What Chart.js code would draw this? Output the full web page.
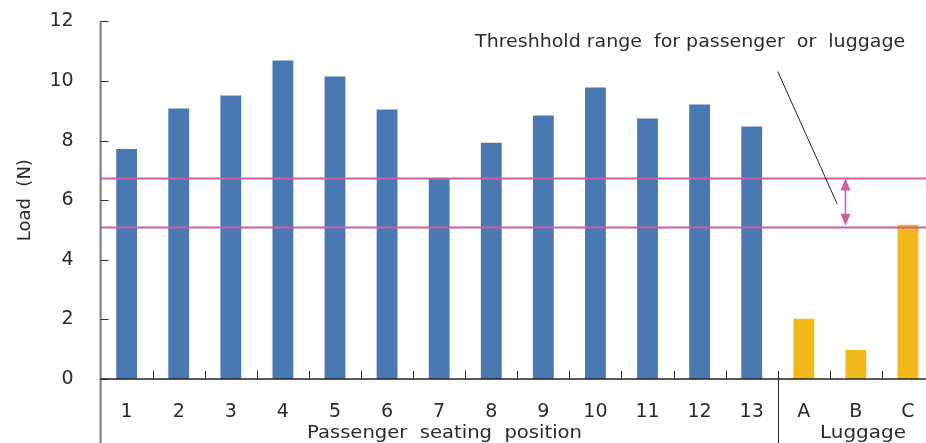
<!DOCTYPE html>
<html>
<head>
<meta charset="utf-8">
<script src="https://cdn.jsdelivr.net/npm/chart.js@4.4.1/dist/chart.umd.min.js"></script>
<style>
  html, body { margin: 0; padding: 0; background: #fff; overflow: hidden; }
  #wrap { width: 936px; height: 443px; overflow: hidden; }
  #chart { display: block; margin-top: -9px; }
</style>
</head>
<body>
<div id="wrap"><canvas id="chart" width="936" height="452"></canvas></div>
<script>
// categories along the x axis
const seatLabels = ['1', '2', '3', '4', '5', '6', '7', '8', '9', '10', '11', '12', '13'];
const luggageLabels = ['A', 'B', 'C'];
// load in N
const passengerLoads = [7.72, 9.08, 9.51, 10.69, 10.15, 9.04, 6.72, 7.93, 8.84, 9.78, 8.74, 9.21, 8.47];
const luggageLoads = [2.02, 0.97, 5.18];
// threshold band
const thresholdLow = 5.11;
const thresholdHigh = 6.76;
const yTicks = [0, 2, 4, 6, 8, 10, 12];
const groupNames = ['Passenger  seating  position', 'Luggage'];
const noteText = 'Threshhold range  for passenger  or  luggage';

const FONT = '"DejaVu Sans", sans-serif';
const BLUE = '#4a79b2';
const YELLOW = '#f3b91b';
const PINK = '#cc5fa0';
const INK = '#2a2a2a';

const labels = seatLabels.concat(luggageLabels);
const values = passengerLoads.concat(luggageLoads);
const colors = seatLabels.map(() => BLUE).concat(luggageLabels.map(() => YELLOW));

// x position at a fractional category index
function catX(xs, v) {
  const i = Math.floor(v);
  const a = xs.getPixelForValue(i);
  const b = xs.getPixelForValue(i + 1);
  return a + (b - a) * (v - i);
}

// draw text squeezed/stretched to a given width
function fitText(ctx, text, x, y, w) {
  const m = ctx.measureText(text).width;
  ctx.save();
  ctx.translate(x, y);
  ctx.scale(w / m, 1);
  ctx.fillText(text, 0, 0);
  ctx.restore();
}

const decorations = {
  id: 'decorations',
  afterDatasetsDraw(chart) {
    const ctx = chart.ctx;
    const xs = chart.scales.x, ys = chart.scales.y;
    const area = chart.chartArea;
    const H = chart.height;
    ctx.save();

    // threshold lines
    ctx.strokeStyle = PINK;
    ctx.lineWidth = 1.8;
    [thresholdLow, thresholdHigh].forEach(v => {
      const y = Math.round(ys.getPixelForValue(v)) + 0.5;
      ctx.beginPath();
      ctx.moveTo(area.left, y);
      ctx.lineTo(chart.width, y);
      ctx.stroke();
    });

    // double arrow between the two lines
    const ax = catX(xs, 13.8);
    const y1 = ys.getPixelForValue(thresholdHigh) + 1;
    const y2 = ys.getPixelForValue(thresholdLow) - 1;
    ctx.fillStyle = PINK;
    ctx.lineWidth = 1.6;
    ctx.beginPath();
    ctx.moveTo(ax, y1 + 8);
    ctx.lineTo(ax, y2 - 8);
    ctx.stroke();
    ctx.beginPath();
    ctx.moveTo(ax, y1); ctx.lineTo(ax - 5, y1 + 12); ctx.lineTo(ax + 5, y1 + 12); ctx.closePath();
    ctx.fill();
    ctx.beginPath();
    ctx.moveTo(ax, y2); ctx.lineTo(ax - 5, y2 - 12); ctx.lineTo(ax + 5, y2 - 12); ctx.closePath();
    ctx.fill();

    // leader line to the note
    ctx.strokeStyle = '#222';
    ctx.lineWidth = 1;
    ctx.beginPath();
    ctx.moveTo(catX(xs, 12.5), ys.getPixelForValue(10.32));
    ctx.lineTo(catX(xs, 13.64), ys.getPixelForValue(5.88));
    ctx.stroke();

    ctx.fillStyle = INK;
    ctx.font = '18px ' + FONT;
    ctx.textAlign = 'left';
    ctx.textBaseline = 'middle';
    fitText(ctx, noteText, catX(xs, 6.69), ys.getPixelForValue(11.3), 430);

    // y axis line (runs to the bottom edge)
    ctx.strokeStyle = '#7a7a7a';
    ctx.lineWidth = 2;
    ctx.beginPath();
    ctx.moveTo(area.left, ys.getPixelForValue(12));
    ctx.lineTo(area.left, H);
    ctx.stroke();

    // y ticks, pointing inwards
    ctx.strokeStyle = '#333';
    ctx.lineWidth = 1;
    yTicks.forEach(v => {
      const y = Math.round(ys.getPixelForValue(v)) + 0.5;
      ctx.beginPath();
      ctx.moveTo(area.left, y);
      ctx.lineTo(area.left + 8, y);
      ctx.stroke();
    });

    // baseline
    ctx.strokeStyle = '#222';
    ctx.lineWidth = 1.3;
    ctx.beginPath();
    ctx.moveTo(area.left, area.bottom);
    ctx.lineTo(chart.width, area.bottom);
    ctx.stroke();

    // x ticks at category boundaries, separator between groups
    ctx.lineWidth = 1;
    for (let i = 0; i < labels.length - 1; i++) {
      const x = Math.round(catX(xs, i + 0.5)) + 0.5;
      ctx.beginPath();
      ctx.moveTo(x, area.bottom - 8);
      ctx.lineTo(x, i === seatLabels.length - 1 ? H : area.bottom);
      ctx.stroke();
    }

    // group names
    ctx.font = '18px ' + FONT;
    ctx.textAlign = 'left';
    fitText(ctx, groupNames[0], 307, area.bottom + 54, 275);
    fitText(ctx, groupNames[1], 820, area.bottom + 54, 86);

    // y axis title
    ctx.textAlign = 'center';
    ctx.translate(25, (area.top + area.bottom) / 2);
    ctx.rotate(-Math.PI / 2);
    ctx.fillText('Load  (N)', 0, 0);

    ctx.restore();
  }
};

new Chart(document.getElementById('chart'), {
  type: 'bar',
  data: {
    labels: labels,
    datasets: [{
      data: values,
      backgroundColor: colors,
      barPercentage: 0.4,
      categoryPercentage: 1
    }]
  },
  options: {
    responsive: false,
    animation: false,
    layout: { padding: { top: 0, right: 2, left: 0, bottom: 0 } },
    plugins: { legend: { display: false }, tooltip: { enabled: false } },
    scales: {
      x: {
        grid: { display: false },
        border: { display: false },
        ticks: { color: INK, font: { family: FONT, size: 19 }, padding: 14, maxRotation: 0, autoSkip: false },
        afterFit(scale) { scale.height = 64; }
      },
      y: {
        min: 0,
        max: 12,
        grid: { display: false },
        border: { display: false },
        ticks: { stepSize: 2, color: INK, font: { family: FONT, size: 19 }, padding: 19 },
        afterFit(scale) { scale.width = 100.6; }
      }
    }
  },
  plugins: [decorations]
});
</script>
</body>
</html>
